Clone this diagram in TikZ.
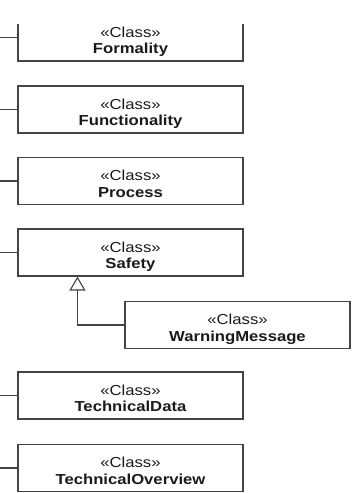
\documentclass[tikz,border=0pt]{standalone}
\usepackage{fontspec}
\setmainfont{Liberation Sans}[FakeStretch=1.15]
\usetikzlibrary{arrows.meta}
\definecolor{edge}{HTML}{444444}
\definecolor{ink}{HTML}{1A1A1A}
\tikzset{
  cls/.style={draw=edge, line width=1.1pt, minimum width=225pt, minimum height=47pt,
    inner sep=0pt, align=center, text=ink, text height=32.4pt, text depth=0pt,
    font=\fontsize{14.5}{16.5}\selectfont},
  stub/.style={draw=edge, line width=1.1pt},
  gen/.style={draw=edge, line width=1.1pt, -{Triangle[open, length=14pt, width=16pt, line width=1.1pt]}},
}
% two-line class label: stereotype over bold name
\newcommand{\clsname}[1]{«Class»\\\textbf{#1}}
\begin{document}
\begin{tikzpicture}[x=1pt, y=-1pt]
  \useasboundingbox (0,0) rectangle (352,493);
  % class boxes
  \begin{scope}
    \clip (0,24) rectangle (352,493);
    \node[cls] (formality) at (130.5,37.5) {\clsname{Formality}};
  \end{scope}
  \node[cls] (functionality) at (130.5,109.5) {\clsname{Functionality}};
  \node[cls] (process) at (130.5,181) {\clsname{Process}};
  \node[cls] (safety) at (130.5,252.5) {\clsname{Safety}};
  \node[cls] (warning) at (237.5,325) {\clsname{WarningMessage}};
  \node[cls] (techdata) at (130.5,395.5) {\clsname{TechnicalData}};
  \node[cls] (techover) at (130.5,468) {\clsname{TechnicalOverview}};
  % incoming stubs from the left margin
  \foreach \n in {formality,functionality,process,safety,techdata,techover}{
    \coordinate (\n-in) at (0,0 |- \n.west);
    \draw[stub] (\n-in) -- (\n.west);
  }
  % generalization WarningMessage -> Safety
  \coordinate (gentip) at ([xshift=60pt]safety.south west);
  \draw[gen] (warning.west) -| (gentip);
\end{tikzpicture}
\end{document}
